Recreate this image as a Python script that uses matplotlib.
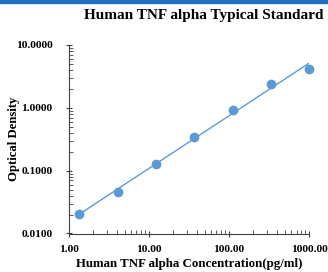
import numpy as np
import matplotlib
matplotlib.use("Agg")
import matplotlib.pyplot as plt
from matplotlib.ticker import FixedLocator, LogLocator, NullFormatter, FuncFormatter
from matplotlib.patches import Rectangle

conc = [1.37, 4.12, 12.35, 37.04, 111.11, 333.33, 1000.0]
od = [0.0208, 0.045, 0.127, 0.346, 0.91, 2.36, 4.19]
title = "Human TNF alpha Typical Standard"
xlabel = "Human TNF alpha Concentration(pg/ml)"
ylabel = "Optical Density"
xticks = [1, 10, 100, 1000]
yticks = [0.01, 0.1, 1, 10]

plt.rcParams['font.family'] = ['Liberation Serif', 'DejaVu Serif']
blue = '#5b9bd5'

fig = plt.figure(figsize=(3.28, 2.72), dpi=100)
fig.patches.append(Rectangle((0, 1 - 3/272), 1, 3/272, transform=fig.transFigure,
                             color='#1f6fbf', zorder=10))
ax = fig.add_axes([68.5/328, 1 - 233.5/272, (309 - 68.5)/328, (233.5 - 45)/272])

ax.set_xscale('log')
ax.set_yscale('log')
ax.set_xlim(1, 1000)
ax.set_ylim(0.01, 10)

# power trend line fit in log space
lx, ly = np.log10(conc), np.log10(od)
b, a = np.polyfit(lx, ly, 1)
xs = np.logspace(lx.min(), lx.max(), 50)
ax.plot(xs, 10**(a + b*np.log10(xs)), color=blue, lw=1.0, zorder=2)
ax.plot(conc, od, 'o', color=blue, ms=6, zorder=3, clip_on=False)

for s in ['top', 'right']:
    ax.spines[s].set_visible(False)
for s in ['left', 'bottom']:
    ax.spines[s].set_linewidth(0.8)
    ax.spines[s].set_color('#404040')

ax.xaxis.set_major_locator(FixedLocator(xticks))
ax.yaxis.set_major_locator(FixedLocator(yticks))
ax.xaxis.set_minor_locator(LogLocator(base=10, subs=np.arange(2, 10)))
ax.yaxis.set_minor_locator(LogLocator(base=10, subs=np.arange(2, 10)))
ax.xaxis.set_minor_formatter(NullFormatter())
ax.yaxis.set_minor_formatter(NullFormatter())
ax.xaxis.set_major_formatter(FuncFormatter(lambda v, p: f"{v:.2f}"))
ax.yaxis.set_major_formatter(FuncFormatter(lambda v, p: f"{v:.4f}"))

ax.tick_params(which='major', direction='inout', length=5, width=0.8, color='#404040',
               labelsize=8.2)
ax.tick_params(axis='y', which='major', pad=9)
ax.tick_params(axis='x', which='major', pad=6)
ax.tick_params(which='minor', direction='in', length=3, width=0.6, color='#404040')
for lab in ax.get_xticklabels() + ax.get_yticklabels():
    lab.set_fontweight('bold')

ax.set_xlabel(xlabel, fontsize=9.3, fontweight='bold', labelpad=3)
ax.set_ylabel(ylabel, fontsize=9.2, fontweight='bold', va='center')
ax.yaxis.set_label_coords(-0.226, 0.5)
fig.text(324/328, 1 - 15/272, title, ha='right', va='center', fontsize=11, fontweight='bold')

fig.savefig('out.png', dpi=100)
